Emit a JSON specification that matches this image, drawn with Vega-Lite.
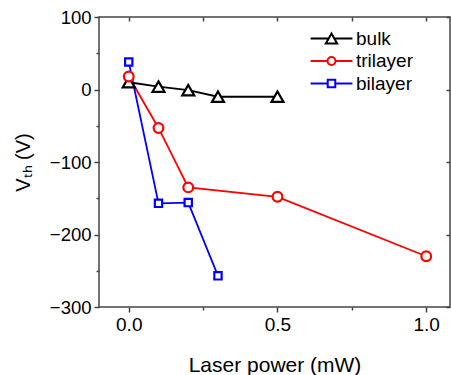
{
  "$schema": "https://vega.github.io/schema/vega-lite/v6.json",
  "width": 351,
  "height": 290,
  "autosize": {"type": "none"},
  "padding": {"left": 99, "top": 17, "right": 1, "bottom": 68},
  "config": {
    "font": "Liberation Sans",
    "view": {"stroke": "#444", "strokeWidth": 1.5},
    "axis": {"domain": false, "grid": false, "tickColor": "#444", "tickWidth": 1.5, "labelColor": "black", "titleColor": "black", "labelFont": "Liberation Sans", "titleFont": "Liberation Sans", "titleFontWeight": "normal"}
  },
  "data": {
    "values": [
      {"series": "bulk", "power": 0, "vth": 10},
      {"series": "bulk", "power": 0.1, "vth": 4},
      {"series": "bulk", "power": 0.2, "vth": -1},
      {"series": "bulk", "power": 0.3, "vth": -10},
      {"series": "bulk", "power": 0.5, "vth": -10},
      {"series": "trilayer", "power": 0, "vth": 18},
      {"series": "trilayer", "power": 0.1, "vth": -53},
      {"series": "trilayer", "power": 0.2, "vth": -135},
      {"series": "trilayer", "power": 0.5, "vth": -148},
      {"series": "trilayer", "power": 1.0, "vth": -230},
      {"series": "bilayer", "power": 0, "vth": 38},
      {"series": "bilayer", "power": 0.1, "vth": -157},
      {"series": "bilayer", "power": 0.2, "vth": -156},
      {"series": "bilayer", "power": 0.3, "vth": -257}
    ]
  },
  "layer": [
    {
      "mark": {"type": "line", "strokeWidth": 1.8},
      "encoding": {
        "x": {
          "field": "power", "type": "quantitative",
          "scale": {"domain": [-0.1, 1.08], "nice": false, "zero": false},
          "axis": {
            "orient": "bottom",
            "title": "Laser power (mW)",
            "values": [0, 0.25, 0.5, 0.75, 1.0],
            "format": ".1f",
            "labelExpr": "(datum.value * 100) % 50 === 0 ? datum.label : ''",
            "tickSize": {"condition": {"test": "(datum.value * 100) % 50 !== 0", "value": 3}, "value": 5},
            "labelFontSize": 19,
            "labelPadding": 3,
            "titleFontSize": 21,
            "titlePadding": 20
          }
        },
        "y": {
          "field": "vth", "type": "quantitative",
          "scale": {"domain": [-300, 100], "nice": false, "zero": false},
          "axis": {
            "orient": "left",
            "title": "Vₜₕ (V)",
            "values": [-300, -250, -200, -150, -100, -50, 0, 50, 100],
            "labelExpr": "datum.value % 100 === 0 ? datum.label : ''",
            "tickSize": {"condition": {"test": "datum.value % 100 !== 0", "value": 3}, "value": 5},
            "labelFontSize": 18.5,
            "labelPadding": 3,
            "titleFontSize": 20,
            "titlePadding": 16
          }
        },
        "color": {
          "field": "series", "type": "nominal",
          "scale": {"domain": ["bulk", "trilayer", "bilayer"], "range": ["black", "#ff0000", "#0000ff"]},
          "legend": null
        }
      }
    },
    {
      "mark": {"type": "point", "filled": false, "fill": "white", "strokeWidth": 2, "opacity": 0, "size": 70},
      "encoding": {
        "x": {"field": "power", "type": "quantitative", "axis": null},
        "y": {"field": "vth", "type": "quantitative", "axis": null},
        "shape": {
          "field": "series", "type": "nominal",
          "scale": {"domain": ["bulk", "trilayer", "bilayer"], "range": ["M-5,0H-0.68M0.68,0H5M0,-1.17L1.35,1.17L-1.35,1.17Z", "M-5,0H-0.95M0.95,0H5M-0.95,0A0.95,0.95 0 1,0 0.95,0A0.95,0.95 0 1,0 -0.95,0Z", "M-5,0H-0.9M0.9,0H5M-0.9,-0.9H0.9V0.9H-0.9Z"]},
          "legend": {
            "orient": "none", "legendX": 223, "legendY": 12,
            "title": null,
            "symbolSize": 70, "symbolStrokeWidth": 2, "symbolFillColor": "white", "symbolOpacity": 1,
            "labelFontSize": 19, "labelColor": "black", "labelOffset": 15,
            "rowPadding": 2.5, "padding": 0
          }
        },
        "color": {
          "field": "series", "type": "nominal",
          "legend": {
            "orient": "none", "legendX": 223, "legendY": 12,
            "title": null,
            "symbolSize": 70, "symbolStrokeWidth": 2, "symbolFillColor": "white", "symbolOpacity": 1,
            "labelFontSize": 19, "labelColor": "black", "labelOffset": 15,
            "rowPadding": 2.5, "padding": 0
          }
        }
      }
    },
    {
      "mark": {"type": "point", "filled": false, "fill": "white", "strokeWidth": 2.2, "opacity": 1, "size": 100},
      "encoding": {
        "x": {
          "field": "power", "type": "quantitative",
          "axis": {"orient": "top", "title": null, "labels": false, "values": [0, 0.25, 0.5, 0.75, 1.0], "tickSize": -4}
        },
        "y": {
          "field": "vth", "type": "quantitative",
          "axis": {"orient": "right", "title": null, "labels": false, "values": [-300, -200, -100, 0, 100], "tickSize": -4}
        },
        "shape": {
          "field": "series", "type": "nominal",
          "scale": {"domain": ["bulk", "trilayer", "bilayer"], "range": ["M0,-1.04L1.2,1.04L-1.2,1.04Z", "M-0.97,0A0.97,0.97 0 1,0 0.97,0A0.97,0.97 0 1,0 -0.97,0Z", "M-0.73,-0.73H0.73V0.73H-0.73Z"]},
          "legend": null
        },
        "color": {
          "field": "series", "type": "nominal",
          "legend": null
        }
      }
    }
  ],
  "resolve": {
    "axis": {"x": "independent", "y": "independent"},
    "scale": {"shape": "independent"},
    "legend": {"shape": "independent", "color": "independent"}
  }
}
